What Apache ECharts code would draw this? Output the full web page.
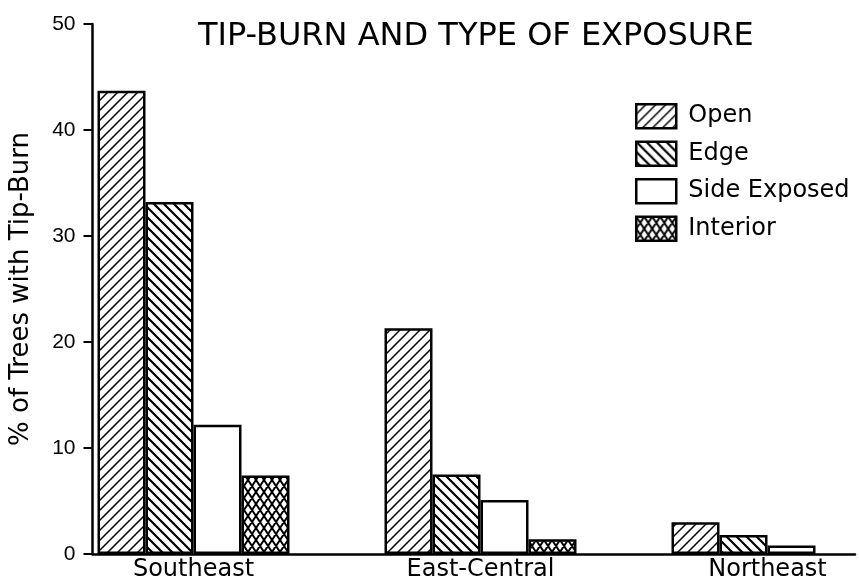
<!DOCTYPE html>
<html>
<head>
<meta charset="utf-8">
<script src="https://cdn.jsdelivr.net/npm/echarts@6/dist/echarts.min.js"></script>
<style>html,body{margin:0;padding:0;background:#fff}#c{width:859px;height:580px}</style>
</head>
<body>
<div id="c"></div>
<script>
var categories = ['Southeast', 'East-Central', 'Northeast'];
var openVals = [43.7, 21.3, 3.0];
var edgeVals = [33.2, 7.5, 1.8];
var sideVals = [12.2, 5.1, 0.8];
var interiorVals = [7.4, 1.4, null];
var seriesNames = ['Open', 'Edge', 'Side Exposed', 'Interior'];
var yTicks = [0, 10, 20, 30, 40, 50];

function hatch(dir, lw) {
  var c = document.createElement('canvas');
  c.width = 10; c.height = 10;
  var g = c.getContext('2d');
  g.fillStyle = '#fff'; g.fillRect(0, 0, 10, 10);
  g.strokeStyle = '#000'; g.lineWidth = lw; g.lineCap = 'square';
  g.beginPath();
  if (dir > 0) {
    g.moveTo(-10, 20); g.lineTo(20, -10);
    g.moveTo(-10, 10); g.lineTo(10, -10);
    g.moveTo(0, 20); g.lineTo(20, 0);
  } else {
    g.moveTo(-10, -10); g.lineTo(20, 20);
    g.moveTo(-10, 0); g.lineTo(10, 20);
    g.moveTo(0, -10); g.lineTo(20, 10);
  }
  g.stroke();
  return c;
}
function cross() {
  var c = document.createElement('canvas');
  c.width = 8; c.height = 12;
  var g = c.getContext('2d');
  g.fillStyle = '#fff'; g.fillRect(0, 0, 8, 12);
  g.strokeStyle = '#000'; g.lineWidth = 2;
  g.beginPath();
  g.moveTo(-8, -12); g.lineTo(16, 24);
  g.moveTo(16, -12); g.lineTo(-8, 24);
  g.moveTo(0, -12); g.lineTo(16, 12);
  g.moveTo(-8, 0); g.lineTo(8, 24);
  g.moveTo(8, -12); g.lineTo(-8, 12);
  g.moveTo(16, 0); g.lineTo(0, 24);
  g.stroke();
  return c;
}
var fills = [
  {image: hatch(1, 1.5), repeat: 'repeat'},
  {image: hatch(-1, 2.2), repeat: 'repeat'},
  '#ffffff',
  {image: cross(), repeat: 'repeat'}
];
var values = [openVals, edgeVals, sideVals, interiorVals];
var FONT = 'DejaVu Sans';

var chart = echarts.init(document.getElementById('c'), null, {renderer: 'canvas'});
var series = seriesNames.map(function (n, i) {
  return {
    name: n, type: 'bar', xAxisIndex: 0, yAxisIndex: 0,
    data: values[i], barWidth: 48, barGap: '0%',
    itemStyle: {color: fills[i], borderColor: '#000', borderWidth: 2.5},
    emphasis: {disabled: true}, animation: false
  };
});
chart.setOption({
  backgroundColor: '#fff',
  animation: false,
  title: {
    text: 'TIP-BURN AND TYPE OF EXPOSURE',
    left: 198, top: 21, padding: 0,
    textStyle: {fontFamily: FONT, fontSize: 32, fontWeight: 'normal', color: '#000'}
  },
  legend: {
    orient: 'vertical', left: 635, top: 103, padding: 0,
    icon: 'rect', itemWidth: 40, itemHeight: 24, itemGap: 11,
    data: seriesNames,
    itemStyle: {borderColor: '#000', borderWidth: 2.5},
    textStyle: {fontFamily: FONT, fontSize: 24, lineHeight: 24, color: '#000', padding: [0, 0, 0, 7]}
  },
  grid: [
    {left: 50, width: 861, top: 24, bottom: 26, outerBoundsMode: 'none', containLabel: false},
    {left: 92.5, right: 4, top: 24, bottom: 26, outerBoundsMode: 'none', containLabel: false}
  ],
  xAxis: [
    {
      type: 'category', gridIndex: 0, data: categories,
      axisLine: {show: false}, axisTick: {show: false},
      axisLabel: {fontFamily: FONT, fontSize: 24, color: '#000', margin: 4}
    },
    {
      type: 'category', gridIndex: 1, data: categories,
      axisLine: {show: true, lineStyle: {color: '#000', width: 2.5}},
      axisTick: {show: false}, axisLabel: {show: false}
    }
  ],
  yAxis: [
    {
      type: 'value', gridIndex: 0, min: yTicks[0], max: yTicks[yTicks.length - 1], interval: 10,
      offset: -42.5,
      splitLine: {show: false},
      axisLine: {show: true, lineStyle: {color: '#000', width: 2.5}},
      axisTick: {show: true, length: 9, lineStyle: {color: '#000', width: 2}},
      axisLabel: {fontFamily: 'Liberation Sans', fontSize: 21, color: '#000', margin: 17},
      name: '% of Trees with Tip-Burn', nameLocation: 'middle', nameGap: 58,
      nameTextStyle: {fontFamily: FONT, fontSize: 26, color: '#000'}
    },
    {type: 'value', gridIndex: 1, show: false, min: 0, max: 50}
  ],
  series: series
});
</script>
</body>
</html>
